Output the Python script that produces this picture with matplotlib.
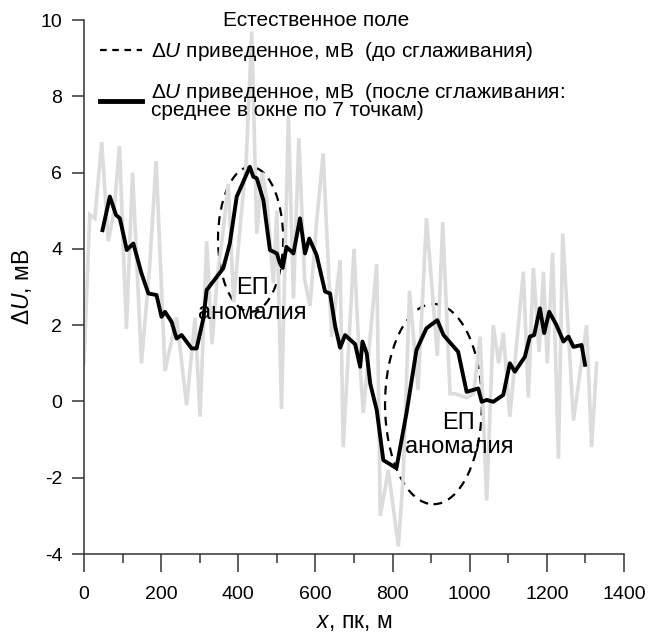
import matplotlib
matplotlib.use('Agg')
import matplotlib.pyplot as plt
from matplotlib.lines import Line2D
from matplotlib.patches import Ellipse

plt.rcParams['font.family'] = ['Liberation Sans', 'DejaVu Sans']
plt.rcParams['mathtext.fontset'] = 'custom'
plt.rcParams['mathtext.rm'] = 'Liberation Sans'
plt.rcParams['mathtext.it'] = 'Liberation Sans:italic'
plt.rcParams['axes.unicode_minus'] = False

# raw profile (before smoothing)
raw_x = [0, 15, 28, 46, 63, 78, 92, 110, 126, 149, 170, 187, 210, 240, 266, 288, 301,
         318, 332, 345, 360, 374, 388, 405, 420, 435, 448, 462, 474, 491, 500, 512,
         530, 543, 557, 572, 586, 603, 620, 642, 664, 672, 700, 712, 724, 759, 768,
         789, 802, 815, 828, 844, 866, 888, 916, 930, 949, 962, 992, 1010, 1027, 1044,
         1061, 1075, 1087, 1104, 1139, 1152, 1165, 1180, 1191, 1201, 1215, 1230, 1241,
         1269, 1303, 1316, 1329]
raw_y = [1.0, 4.9, 4.8, 6.8, 4.2, 5.0, 6.7, 1.9, 6.0, 1.0, 3.5, 6.3, 0.8, 2.2, -0.1, 2.2, -0.4,
         4.2, 1.5, 3.2, 4.4, 5.7, 2.6, 4.6, 6.2, 9.7, 4.4, 6.0, 5.3, 3.1, 5.0, -0.2,
         7.5, 2.7, 6.9, 3.2, 2.5, 4.7, 6.5, 1.7, 3.7, -1.2, 4.0, 1.5, -0.3, 3.6, -3.0,
         -1.8, -2.8, -3.8, -1.9, 2.9, 0.3, 4.8, 1.2, 4.7, 0.2, 0.2, 0.1, 0.2, 1.7, -2.6,
         2.0, 1.0, 1.8, -0.4, 3.4, 0.1, 3.5, 1.3, 3.4, 1.0, 3.9, -1.5, 4.4,
         -0.5, 2.0, -1.2, 1.0]

# smoothed profile (7-point moving average)
smooth_x = [48, 67, 83, 93, 111, 128, 149, 167, 188, 201, 210, 227, 240, 253, 279, 292,
            310, 318, 361, 378, 396, 430, 439, 448, 465, 482, 500, 508, 515, 525, 543,
            560, 573, 584, 603, 625, 638, 651, 664, 677, 703, 716, 722, 733, 742, 759,
            776, 810, 836, 862, 888, 916, 932, 970, 992, 1022, 1031, 1044, 1061, 1087,
            1104, 1117, 1143, 1156, 1167, 1182, 1193, 1206, 1225, 1243, 1256, 1269,
            1290, 1299]
smooth_y = [4.49, 5.37, 4.89, 4.80, 3.97, 4.14, 3.36, 2.83, 2.79, 2.22, 2.35, 2.09, 1.65,
            1.74, 1.39, 1.39, 2.2, 2.92, 3.49, 4.14, 5.37, 6.15, 5.89, 5.85, 5.28, 3.97,
            3.88, 3.62, 3.5, 4.05, 3.88, 4.80, 3.88, 4.27, 3.84, 2.88, 2.83, 1.98, 1.41,
            1.74, 1.50, 0.91, 1.57, 1.26, 0.47, -0.23, -1.54, -1.75, -0.31, 1.35, 1.92,
            2.13, 1.74, 1.30, 0.25, 0.34, -0.01, 0.04, -0.01, 0.17, 1.0, 0.78, 1.17,
            1.70, 1.74, 2.44, 1.79, 2.35, 2.0, 1.57, 1.70, 1.43, 1.48, 0.96]

# anomaly ellipses: center x, center y, width, height
anomalies = [(432, 4.25, 169, 3.8), (906, -0.07, 251, 5.25)]
anomaly_text_pos = [(436, 2.65), (972, -0.88)]

fig = plt.figure(figsize=(6.49, 6.33), dpi=100)
ax = fig.add_axes([0.1294, 0.1248, 0.8321, 0.8436])

ax.plot(raw_x, raw_y, color='#dcdcdc', linewidth=2.6, solid_joinstyle='miter')
ax.plot(smooth_x, smooth_y, color='black', linewidth=2.8)

for cx, cy, w, h in anomalies:
    ax.add_patch(Ellipse((cx, cy), w, h, fill=False, edgecolor='black',
                         linewidth=1.6, linestyle=(0, (4, 3))))
for tx, ty in anomaly_text_pos:
    ax.text(tx, ty, 'ЕП\nаномалия', ha='center', va='center', fontsize=17,
            linespacing=1.15)

ax.set_xlim(0, 1400)
ax.set_ylim(-4, 10)
ax.set_xticks(range(0, 1401, 200))
ax.set_xticks(range(100, 1400, 200), minor=True)
ax.set_yticks(range(-4, 11, 2))
for s in ['top', 'right']:
    ax.spines[s].set_visible(False)
for s in ['left', 'bottom']:
    ax.spines[s].set_linewidth(1.1)
    ax.spines[s].set_color('#333333')
ax.tick_params(axis='x', which='major', length=13, width=1.1, pad=10, labelsize=14,
               color='#333333')
ax.tick_params(axis='x', which='minor', length=6.5, width=1.1, color='#333333')
ax.tick_params(axis='y', which='major', length=8.6, width=1.1, pad=7, labelsize=14,
               color='#333333')

ax.set_xlabel(r'$x$, пк, м', fontsize=16.5, labelpad=5)
ax.set_ylabel(r'$\Delta U$, мВ', fontsize=16.5, labelpad=5)

handles = [Line2D([], [], color='black', linewidth=1.6, linestyle=(0, (3, 2.5))),
           Line2D([], [], color='black', linewidth=3.5)]
labels = [r'$\Delta U$ приведенное, мВ  (до сглаживания)',
          r'$\Delta U$ приведенное, мВ  (после сглаживания:' + '\n' +
          'среднее в окне по 7 точкам)']
leg = ax.legend(handles, labels, loc='upper left',
                bbox_to_anchor=(100 / 649, 1 - 40 / 633), bbox_transform=fig.transFigure,
                frameon=False, fontsize=15, handlelength=2.0, borderaxespad=0,
                borderpad=0, handletextpad=0.45, labelspacing=0.85)
for t in leg.get_texts():
    t.set_linespacing(0.85)
fig.text(316 / 649, 1 - 20 / 633, 'Естественное поле', fontsize=15,
         ha='center', va='center')

fig.savefig('out.png', dpi=100)
